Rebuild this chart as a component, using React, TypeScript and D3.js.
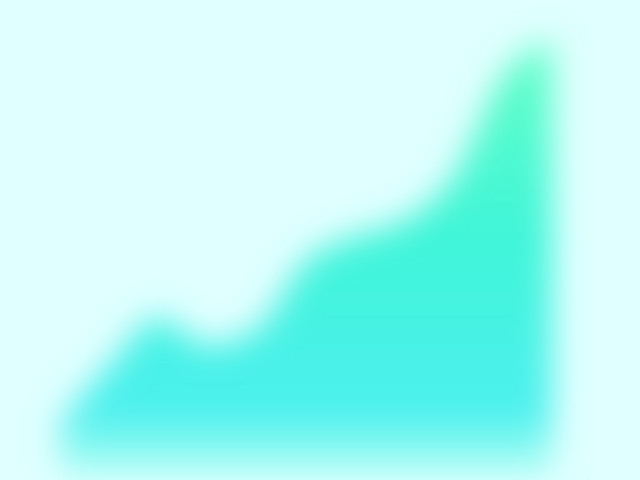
import { useRef, useEffect } from 'react';
import * as d3 from 'd3';

const steps = [0, 1, 2, 3, 4, 5, 6, 7, 8, 9, 10];
const values = [5, 19, 31, 24, 28, 45, 51, 55, 66, 91, 100];

export default function App() {
  const svgRef = useRef<SVGSVGElement>(null);
  const width = 640;
  const height = 480;

  useEffect(() => {
    const svg = d3.select(svgRef.current);
    svg.selectAll('*').remove();

    const margin = { top: 40, right: 88, bottom: 38, left: 60 };

    const x = d3
      .scaleLinear()
      .domain([0, steps.length - 1])
      .range([margin.left, width - margin.right]);
    const y = d3
      .scaleLinear()
      .domain([0, 100])
      .range([height - margin.bottom, margin.top]);

    const defs = svg.append('defs');

    // fill fades to a pale cyan below the baseline
    const grad = defs
      .append('linearGradient')
      .attr('id', 'areaFill')
      .attr('x1', 0)
      .attr('y1', 0)
      .attr('x2', 0)
      .attr('y2', 1);
    grad.append('stop').attr('offset', '0%').attr('stop-color', '#62ffc6');
    grad.append('stop').attr('offset', '45%').attr('stop-color', '#40f5d8');
    grad.append('stop').attr('offset', '86%').attr('stop-color', '#4cf0ee');
    grad.append('stop').attr('offset', '100%').attr('stop-color', '#b2fff4');

    defs
      .append('filter')
      .attr('id', 'soft')
      .attr('x', '-30%')
      .attr('y', '-30%')
      .attr('width', '160%')
      .attr('height', '160%')
      .append('feGaussianBlur')
      .attr('stdDeviation', 17);

    svg
      .append('rect')
      .attr('width', width)
      .attr('height', height)
      .attr('fill', '#e0ffff');

    const area = d3
      .area<number>()
      .x((_d, i) => x(steps[i]))
      .y0(height - 6)
      .y1((d) => y(d))
      .curve(d3.curveMonotoneX);

    svg
      .append('path')
      .datum(values)
      .attr('d', area)
      .attr('fill', 'url(#areaFill)')
      .attr('filter', 'url(#soft)');
  }, []);

  return (
    <svg
      ref={svgRef}
      width={width}
      height={height}
      viewBox={`0 0 ${width} ${height}`}
      style={{ position: 'fixed', left: 0, top: 0, display: 'block' }}
    />
  );
}
